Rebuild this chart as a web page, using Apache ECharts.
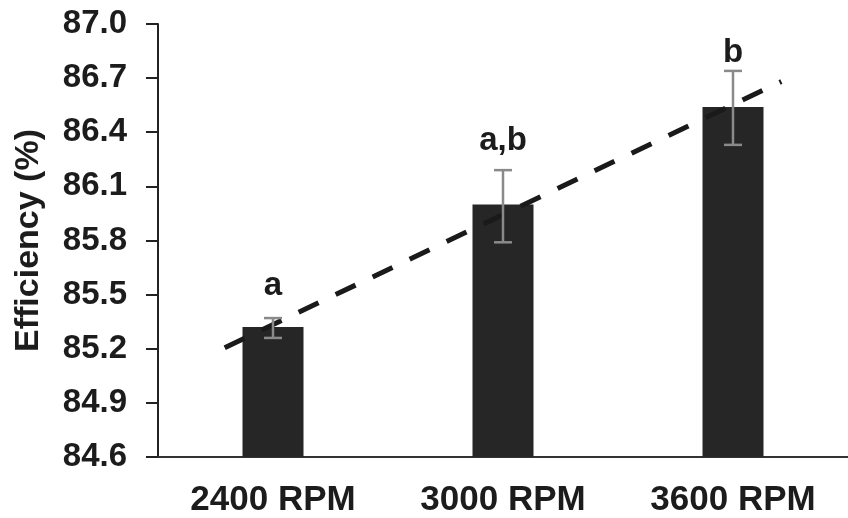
<!DOCTYPE html>
<html>
<head>
<meta charset="utf-8">
<script src="https://cdn.jsdelivr.net/npm/echarts@6/dist/echarts.min.js"></script>
<style>
  html, body { margin: 0; padding: 0; background: #fff; }
  #chart { width: 848px; height: 518px; }
</style>
</head>
<body>
<div id="chart"></div>
<script>
// values
const categories = ['2400 RPM', '3000 RPM', '3600 RPM']
const efficiency = [85.32, 86.0, 86.54]
const errLow = [85.26, 85.79, 86.33]
const errHigh = [85.37, 86.19, 86.74]
const letters = ['a', 'a,b', 'b']
const letterLevel = [85.55, 86.35, 86.84]
// dashed trend line end points (category position, value)
const trendX = [-0.21, 2.21]
const trendY = [85.206, 86.681]

const font = 'Liberation Sans, Arial, sans-serif'
const ink = '#1c1c1c'

const chart = echarts.init(document.getElementById('chart'))

const option = {
  backgroundColor: '#fff',
  animation: false,
  grid: {
    left: 158,
    top: 24,
    width: 696,
    height: 436
  },
  xAxis: [{
    type: 'category',
    data: categories,
    axisTick: { show: false },
    axisLine: { lineStyle: { color: '#333', width: 2 } },
    axisLabel: {
      color: ink,
      fontFamily: font,
      fontWeight: 'bold',
      fontSize: 35,
      margin: 26
    }
  }, {
    // hidden value axis lined up with the categories, for the trend line
    type: 'value',
    min: -0.5,
    max: 2.5,
    show: false
  }],
  yAxis: {
    type: 'value',
    min: 84.6,
    max: 87.0,
    interval: 0.3,
    name: 'Efficiency (%)',
    nameLocation: 'middle',
    nameRotate: 90,
    nameGap: 112,
    nameTextStyle: {
      color: ink,
      fontFamily: font,
      fontWeight: 'bold',
      fontSize: 34
    },
    axisLine: { show: true, onZero: false, lineStyle: { color: '#222', width: 2 } },
    axisTick: { show: true, length: 12, lineStyle: { color: '#222', width: 2 } },
    splitLine: { show: false },
    axisLabel: {
      color: ink,
      fontFamily: font,
      fontWeight: 'bold',
      fontSize: 33,
      margin: 31,
      formatter: v => v.toFixed(1)
    }
  },
  series: [{
    type: 'bar',
    data: efficiency,
    barWidth: 61,
    itemStyle: { color: '#262626' },
    z: 2
  }, {
    type: 'line',
    xAxisIndex: 1,
    data: trendX.map((x, i) => [x, trendY[i]]),
    symbol: 'none',
    lineStyle: { color: '#1a1a1a', width: 5, type: [22, 19], cap: 'butt' },
    z: 3
  }, {
    type: 'custom',
    data: errLow.map((lo, i) => [i, lo, errHigh[i]]),
    renderItem: function (params, api) {
      const lo = api.coord([api.value(0), api.value(1)])
      const hi = api.coord([api.value(0), api.value(2)])
      const half = 9
      const style = { stroke: '#8a8a8a', lineWidth: 2.5 }
      return {
        type: 'group',
        children: [
          { type: 'line', shape: { x1: hi[0], y1: hi[1], x2: lo[0], y2: lo[1] }, style },
          { type: 'line', shape: { x1: hi[0] - half, y1: hi[1], x2: hi[0] + half, y2: hi[1] }, style },
          { type: 'line', shape: { x1: lo[0] - half, y1: lo[1], x2: lo[0] + half, y2: lo[1] }, style }
        ]
      }
    },
    z: 4
  }, {
    type: 'scatter',
    data: letterLevel.map((v, i) => [i, v]),
    symbolSize: 0,
    itemStyle: { opacity: 1, color: ink },
    label: {
      show: true,
      position: 'inside',
      formatter: p => letters[p.dataIndex],
      color: ink,
      opacity: 1,
      fontFamily: font,
      fontWeight: 'bold',
      fontSize: 33
    },
    z: 5
  }]
}

chart.setOption(option)
</script>
</body>
</html>
